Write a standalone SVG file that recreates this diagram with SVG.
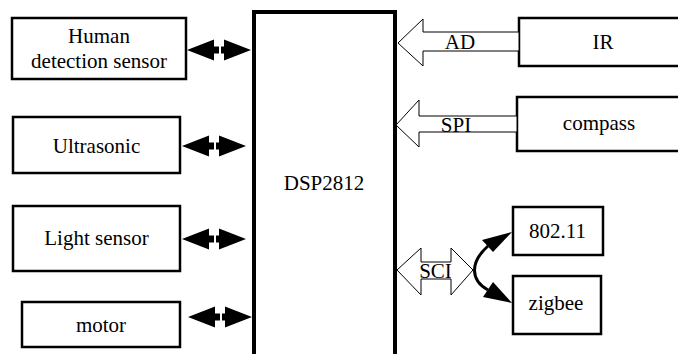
<svg xmlns="http://www.w3.org/2000/svg" width="678" height="354" viewBox="0 0 678 354">
<style>
.box{fill:#fff;stroke:#000;stroke-width:2.5}
.dsp{fill:#fff;stroke:#000;stroke-width:4}
.t{font-family:'Liberation Serif','Times New Roman','DejaVu Serif',serif;font-size:21px;fill:#000;text-anchor:middle}
.hollow{fill:#fff;stroke:#000;stroke-width:1}
.solid{fill:#000;stroke:none}
</style>
<defs>
<path id="dbl" d="M0,0 L27,-10.5 L27,-3.5 L32,-3.5 L32,3.5 L27,3.5 L27,10.5 Z M34,-3.5 L37,-3.5 L37,-10.5 L64,0 L37,10.5 L37,3.5 L34,3.5 Z"/>
</defs>
<g id="dsp">
<rect class="dsp" x="254" y="12" width="141" height="360"/>
<text class="t" x="324" y="190" font-family="Liberation Serif, serif">DSP2812</text>
</g>
<g id="human">
<rect class="box" x="12" y="18" width="174" height="61"/>
<text class="t" x="99" y="43" font-family="Liberation Serif, serif">Human</text>
<text class="t" x="99" y="68" font-family="Liberation Serif, serif">detection sensor</text>
</g>
<g id="ultrasonic">
<rect class="box" x="13" y="117" width="167" height="56"/>
<text class="t" x="96.5" y="153" font-family="Liberation Serif, serif">Ultrasonic</text>
</g>
<g id="light">
<rect class="box" x="13" y="206" width="167" height="65"/>
<text class="t" x="96.5" y="245" font-family="Liberation Serif, serif">Light sensor</text>
</g>
<g id="motor">
<rect class="box" x="22" y="302" width="158" height="45"/>
<text class="t" x="101" y="332" font-family="Liberation Serif, serif">motor</text>
</g>
<g id="ir">
<rect class="box" x="519" y="18" width="170" height="48"/>
<text class="t" x="603" y="49" font-family="Liberation Serif, serif">IR</text>
</g>
<g id="compass">
<rect class="box" x="517" y="97" width="172" height="54"/>
<text class="t" x="599" y="130" font-family="Liberation Serif, serif">compass</text>
</g>
<g id="wifi">
<rect class="box" x="513" y="207" width="90" height="48"/>
<text class="t" x="557.5" y="238" font-family="Liberation Serif, serif">802.11</text>
</g>
<g id="zigbee">
<rect class="box" x="513" y="276" width="88" height="58"/>
<text class="t" x="556" y="310" font-family="Liberation Serif, serif">zigbee</text>
</g>
<g id="connectors">
<use href="#dbl" class="solid" transform="translate(187,50)"/>
<use href="#dbl" class="solid" transform="translate(182,146)"/>
<use href="#dbl" class="solid" transform="translate(182,239)"/>
<use href="#dbl" class="solid" transform="translate(188,317)"/>
<polygon class="hollow" points="398,43 423,19 423,32 519,32 519,51 423,51 423,66"/>
<text class="t" x="460" y="49" font-family="Liberation Serif, serif">AD</text>
<polygon class="hollow" points="396,125 419,100 419,116 517,116 517,132 419,132 419,147"/>
<text class="t" x="456" y="132" font-family="Liberation Serif, serif">SPI</text>
<polygon class="hollow" points="397,270 421,248 421,262 451,262 451,248 473,270 451,295 451,279 421,279 421,295"/>
<text class="t" x="435.5" y="278" font-family="Liberation Serif, serif">SCI</text>
<path d="M488,246 C470,262 470,280 488,290" fill="none" stroke="#000" stroke-width="3"/>
<polygon class="solid" points="512,232 482,240 493,252"/>
<polygon class="solid" points="512,303 483,297 493,282"/>
</g>
</svg>
